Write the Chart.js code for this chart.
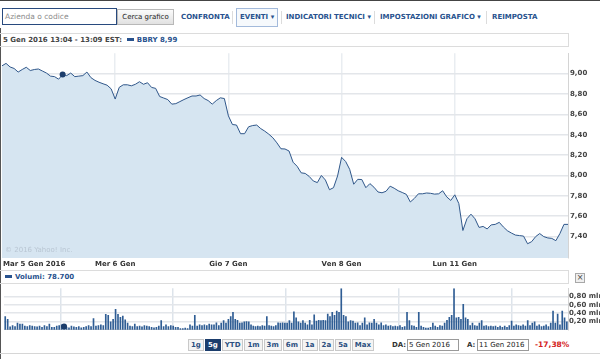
<!DOCTYPE html>
<html lang="it">
<head>
<meta charset="utf-8">
<title>BBRY 5g</title>
<script src="https://cdn.jsdelivr.net/npm/chart.js@4.4.1/dist/chart.umd.min.js"></script>
<style>
  body { margin: 0; width: 600px; height: 359px; overflow: hidden; background: #fff;
         font-family: "DejaVu Sans", Verdana, sans-serif; position: relative; }
  .abs { position: absolute; }
  .bold { font-weight: bold; }
  .nav { position: absolute; top: 12px; font-size: 7px; font-weight: bold; color: #28528e; line-height: 10px; white-space: nowrap; }
  .sep { position: absolute; top: 11px; width: 1px; height: 13px; background: #dcdcdc; }
  .bar { position: absolute; left: 0; width: 568px; height: 12px; border: 1px solid #dcdcdc; border-left: none;
         font-size: 7px; font-weight: bold; line-height: 12px; white-space: nowrap; }
  .swatch { display: inline-block; width: 7px; height: 3px; background: #28528e; vertical-align: 1px; margin-right: 3px; }
  .ranges { position: absolute; left: 188px; top: 339px; display: flex; }
  .ranges span { font-size: 7px; font-weight: bold; color: #2b4f80; border: 1px solid #c9c9c9; background: #f4f4f4;
                 height: 10px; line-height: 10px; padding: 0 2px; margin-right: 1px; }
  .ranges span.on { background: #1b3d6c; color: #fff; border-color: #1b3d6c; }
  .field { position: absolute; top: 339px; width: 49px; height: 10px; border: 1px solid #9a9a9a; font-size: 7px;
           line-height: 10px; padding-left: 1px; color: #222; white-space: nowrap; overflow: hidden; }
  canvas { position: absolute; left: 0; }
</style>
</head>
<body>
<div class="abs" style="left:0;top:0;width:600px;height:1px;background:#444"></div>
<div class="abs" style="left:0;top:28px;width:1px;height:331px;background:#555"></div>

<!-- toolbar -->
<div class="abs" style="left:2px;top:8px;width:111px;height:15px;border:1px solid #284a7e;font-size:7.5px;line-height:15px;color:#8a8a8a;padding-left:2px">Azienda o codice</div>
<div class="abs" style="left:117px;top:9px;width:55px;height:14px;border:1px solid #b8b8b8;background:linear-gradient(#fbfbfb,#e1e1e1);font-size:7px;line-height:14px;color:#222;text-align:center">Cerca grafico</div>
<div class="nav" style="left:181px">CONFRONTA</div>
<div class="sep" style="left:232px"></div>
<div class="abs" style="left:236px;top:8px;width:40px;height:17px;border:1px solid #a3badb;background:#f6f9fc"></div>
<div class="nav" style="left:240px">EVENTI &#9662;</div>
<div class="sep" style="left:281px"></div>
<div class="nav" style="left:286px">INDICATORI TECNICI &#9662;</div>
<div class="sep" style="left:374px"></div>
<div class="nav" style="left:380px">IMPOSTAZIONI GRAFICO &#9662;</div>
<div class="sep" style="left:486px"></div>
<div class="nav" style="left:492px">REIMPOSTA</div>

<!-- price panel -->
<div class="bar" style="top:33px;color:#444"><span style="margin-left:3px">5 Gen 2016 13:04 - 13:09 EST:</span>&nbsp;&nbsp;<span class="swatch"></span><span style="color:#28528e">BBRY 8,99</span></div>
<canvas id="priceChart" width="600" height="223" style="top:47px"></canvas>
<div class="abs" style="left:5px;top:246px;font-size:7px;color:#b9c6d3">&copy; 2016 Yahoo! Inc.</div>

<!-- volume panel -->
<div class="bar" style="top:270px;color:#28528e"><span style="margin-left:5px" class="swatch"></span>Volumi: 78.700</div>
<div class="abs" style="left:575px;top:273px;width:8px;height:8px;border:1px solid #a8a8a8;background:#efefef;font-size:8px;line-height:8px;text-align:center;color:#444">&times;</div>
<canvas id="volumeChart" width="600" height="52" style="top:283px"></canvas>

<!-- range bar -->
<div class="ranges" id="ranges"></div>
<div class="abs bold" style="left:392px;top:340px;font-size:7px;line-height:10px;color:#333">DA:</div>
<div class="field" style="left:407px">5 Gen 2016</div>
<div class="abs bold" style="left:467px;top:340px;font-size:7px;line-height:10px;color:#333">A:</div>
<div class="field" style="left:477px">11 Gen 2016</div>
<div class="abs bold" style="left:535px;top:340px;font-size:7.5px;line-height:10px;color:#d42020">-17,38%</div>
<div class="abs" style="left:0;top:353px;width:600px;height:1px;background:#d6d6d6"></div>

<script>
const dayLabels = ["Mar 5 Gen 2016", "Mer 6 Gen", "Gio 7 Gen", "Ven 8 Gen", "Lun 11 Gen"];
const rangeLabels = ["1g", "5g", "YTD", "1m", "3m", "6m", "1a", "2a", "5a", "Max"];
const activeRange = "5g";

// price samples, evenly spaced through each session
const slotsPerDay = 28;
const priceDay1 = [9.076, 9.10, 9.065, 9.05, 9.015, 9.04, 9.062, 9.03, 9.04, 9.045, 9.025, 9.005, 8.975, 8.97,
                   8.945, 8.99, 8.98, 9.005, 8.97, 8.975, 8.98, 9.015, 8.96, 8.933, 8.915, 8.90, 8.886, 8.85];
const priceDay2 = [8.75, 8.865, 8.89, 8.89, 8.88, 8.895, 8.92, 8.895, 8.91, 8.864, 8.855, 8.775, 8.76, 8.745,
                   8.70, 8.705, 8.725, 8.745, 8.763, 8.78, 8.78, 8.79, 8.755, 8.735, 8.70, 8.735, 8.762, 8.755];
const priceDay3 = [8.585, 8.50, 8.495, 8.41, 8.41, 8.478, 8.49, 8.495, 8.46, 8.435, 8.405, 8.37, 8.32, 8.262,
                   8.26, 8.24, 8.13, 8.09, 8.026, 8.02, 7.99, 7.946, 7.93, 8.0, 7.955, 7.86, 7.88, 7.995];
const priceDay4 = [8.178, 8.137, 8.06, 7.914, 7.962, 7.96, 7.88, 7.92, 7.885, 7.838, 7.83, 7.845, 7.895, 7.875,
                   7.85, 7.833, 7.815, 7.74, 7.775, 7.82, 7.82, 7.828, 7.825, 7.817, 7.82, 7.85, 7.79, 7.755];
const priceDay5 = [7.81, 7.724, 7.46, 7.575, 7.62, 7.575, 7.49, 7.50, 7.475, 7.515, 7.52, 7.54, 7.495, 7.458,
                   7.435, 7.415, 7.41, 7.405, 7.33, 7.35, 7.40, 7.43, 7.40, 7.387, 7.382, 7.36, 7.43, 7.52, 7.52];

// volume in millions
const volumeDay1 = [0.32, 0.25, 0.07, 0.10, 0.08, 0.16, 0.14, 0.14, 0.09, 0.08, 0.10, 0.09, 0.08, 0.07, 0.09, 0.06,
                    0.10, 0.08, 0.14, 0.06, 0.06, 0.09, 0.10, 0.12, 0.079, 0.06, 0.05, 0.09, 0.07, 0.06, 0.08, 0.05,
                    0.06, 0.08, 0.10, 0.08, 0.27, 0.09, 0.10, 0.12, 0.10, 0.37, 0.35, 0.19, 0.25, 0.49];
const volumeDay2 = [0.37, 0.30, 0.33, 0.24, 0.16, 0.09, 0.08, 0.14, 0.08, 0.09, 0.07, 0.10, 0.09, 0.08, 0.06, 0.05,
                    0.06, 0.09, 0.22, 0.08, 0.12, 0.08, 0.10, 0.09, 0.06, 0.06, 0.03, 0.03, 0.04, 0.03, 0.12, 0.09,
                    0.35, 0.09, 0.12, 0.10, 0.12, 0.10, 0.14, 0.12, 0.12, 0.17, 0.10, 0.16, 0.22, 0.16, 0.25];
const volumeDay3 = [0.32, 0.42, 0.25, 0.23, 0.16, 0.17, 0.19, 0.20, 0.19, 0.12, 0.09, 0.08, 0.09, 0.08, 0.10, 0.09,
                    0.32, 0.10, 0.09, 0.08, 0.10, 0.17, 0.16, 0.17, 0.16, 0.16, 0.22, 0.16, 0.43, 0.29, 0.19, 0.16,
                    0.22, 0.16, 0.12, 0.23, 0.12, 0.36, 0.21, 0.23, 0.22, 0.23, 0.22, 0.38, 0.32, 0.42, 0.35, 0.45,
                    0.42, 0.99];
const volumeDay4 = [0.35, 0.32, 0.19, 0.22, 0.21, 0.16, 0.17, 0.10, 0.16, 0.29, 0.12, 0.17, 0.16, 0.25, 0.16, 0.12,
                    0.17, 0.10, 0.12, 0.09, 0.10, 0.08, 0.09, 0.08, 0.10, 0.06, 0.08, 0.42, 0.22, 0.10, 0.09, 0.06,
                    0.42, 0.09, 0.06, 0.04, 0.04, 0.06, 0.16, 0.09, 0.06, 0.10, 0.09, 0.16, 0.23, 0.30, 0.35, 0.99];
const volumeDay5 = [0.29, 0.30, 0.25, 0.61, 0.29, 0.25, 0.10, 0.16, 0.10, 0.09, 0.16, 0.22, 0.09, 0.10, 0.08, 0.09,
                    0.08, 0.09, 0.06, 0.09, 0.06, 0.09, 0.06, 0.10, 0.21, 0.09, 0.12, 0.10, 0.09, 0.12, 0.09, 0.22,
                    0.10, 0.16, 0.19, 0.09, 0.12, 0.08, 0.09, 0.12, 0.08, 0.16, 0.45, 0.16, 0.38, 0.12, 0.45, 0.29,
                    0.19];

const priceTicks = [7.4, 7.6, 7.8, 8.0, 8.2, 8.4, 8.6, 8.8, 9.0];
const volumeTicks = [0.2, 0.4, 0.6, 0.8];
const priceMin = 7.19, priceMax = 9.2;
const volumeMax = 1.0;

// crosshair sits on 5 Gen, 13:04
const hoverPrice = 15;
const hoverVolume = 24;

const dayLines = [1, 2, 3, 4];
const tickFont = { family: "DejaVu Sans", size: 7, weight: "bold" };
const comma = (v) => v.toFixed(2).replace(".", ",");

const pricePoints = [];
[priceDay1, priceDay2, priceDay3, priceDay4, priceDay5].forEach((vals, d) => {
  vals.forEach((v, i) => pricePoints.push({ x: d + i / slotsPerDay, y: v }));
});

const volumePoints = [];
[volumeDay1, volumeDay2, volumeDay3, volumeDay4, volumeDay5].forEach((vals, d) => {
  vals.forEach((v, i) => volumePoints.push({ x: d + (i + 0.5) / vals.length, y: v }));
});
const volumeMarker = [volumePoints[hoverVolume]];

// range buttons
const rangesEl = document.getElementById("ranges");
rangeLabels.forEach((r) => {
  const s = document.createElement("span");
  s.textContent = r;
  if (r === activeRange) s.className = "on";
  rangesEl.appendChild(s);
});

// first day label is left aligned at the chart edge
const firstDayLabel = {
  id: "firstDayLabel",
  afterDraw(chart) {
    const ctx = chart.ctx;
    const xs = chart.scales.x;
    ctx.save();
    ctx.font = "bold 7px 'DejaVu Sans'";
    ctx.fillStyle = "#333";
    ctx.textBaseline = "middle";
    ctx.fillText(dayLabels[0], chart.chartArea.left + 1, xs.top + 6);
    ctx.restore();
  },
};

new Chart(document.getElementById("priceChart"), {
  type: "line",
  data: {
    datasets: [{
      data: pricePoints,
      borderColor: "#30578a",
      borderWidth: 1,
      backgroundColor: "#d6e5f1",
      fill: "start",
      tension: 0,
      pointRadius: (c) => (c.dataIndex === hoverPrice ? 3 : 0),
      pointBackgroundColor: "#1c3d6b",
      pointBorderWidth: 0,
    }],
  },
  options: {
    responsive: false,
    animation: false,
    events: [],
    layout: { padding: { left: 2, top: 0, right: 0, bottom: 0 } },
    plugins: { legend: { display: false }, tooltip: { enabled: false } },
    scales: {
      x: {
        type: "linear", min: 0, max: 5, z: 1,
        afterBuildTicks: (s) => { s.ticks = dayLines.map((v) => ({ value: v })); },
        afterFit: (s) => { s.height = 12; },
        ticks: { callback: (v) => dayLabels[v], padding: 2, maxRotation: 0, autoSkip: false, color: "#333", font: tickFont },
        grid: { color: "#e9edf1", lineWidth: 1.5, drawTicks: false },
        border: { display: false },
      },
      y: {
        position: "right", min: priceMin, max: priceMax, z: 1,
        afterBuildTicks: (s) => { s.ticks = priceTicks.map((v) => ({ value: v })); },
        afterFit: (s) => { s.width = 32; },
        ticks: { callback: (v) => comma(v), padding: 2, color: "#444", font: tickFont },
        grid: { color: "#e3e6ea", lineWidth: 1.5, drawTicks: false },
        border: { display: true, color: "#d4d4d4" },
      },
    },
  },
  plugins: [firstDayLabel],
});

new Chart(document.getElementById("volumeChart"), {
  type: "bar",
  data: {
    datasets: [
      { type: "scatter", data: volumeMarker, pointRadius: 3, backgroundColor: "#1c3d6b", borderWidth: 0, order: 0 },
      { data: volumePoints, backgroundColor: "#2f5d94", barThickness: 1, order: 1 },
    ],
  },
  options: {
    responsive: false,
    animation: false,
    events: [],
    layout: { padding: { left: 2, top: 0, right: 0, bottom: 0 } },
    plugins: { legend: { display: false }, tooltip: { enabled: false } },
    scales: {
      x: {
        type: "linear", min: 0, max: 5, offset: false,
        afterBuildTicks: (s) => { s.ticks = dayLines.map((v) => ({ value: v })); },
        afterFit: (s) => { s.height = 1; },
        ticks: { display: false },
        grid: { color: "#dde4eb", lineWidth: 1.5, drawTicks: false },
        border: { display: true, color: "#d4d4d4" },
      },
      y: {
        position: "right", min: 0, max: volumeMax,
        afterBuildTicks: (s) => { s.ticks = volumeTicks.map((v) => ({ value: v })); },
        afterFit: (s) => { s.width = 32; },
        ticks: { callback: (v) => comma(v) + " mln", padding: 1, color: "#444", font: tickFont },
        grid: { color: "#e3e6ea", lineWidth: 1.5, drawTicks: false },
        border: { display: true, color: "#d4d4d4" },
      },
    },
  },
});
</script>
</body>
</html>
